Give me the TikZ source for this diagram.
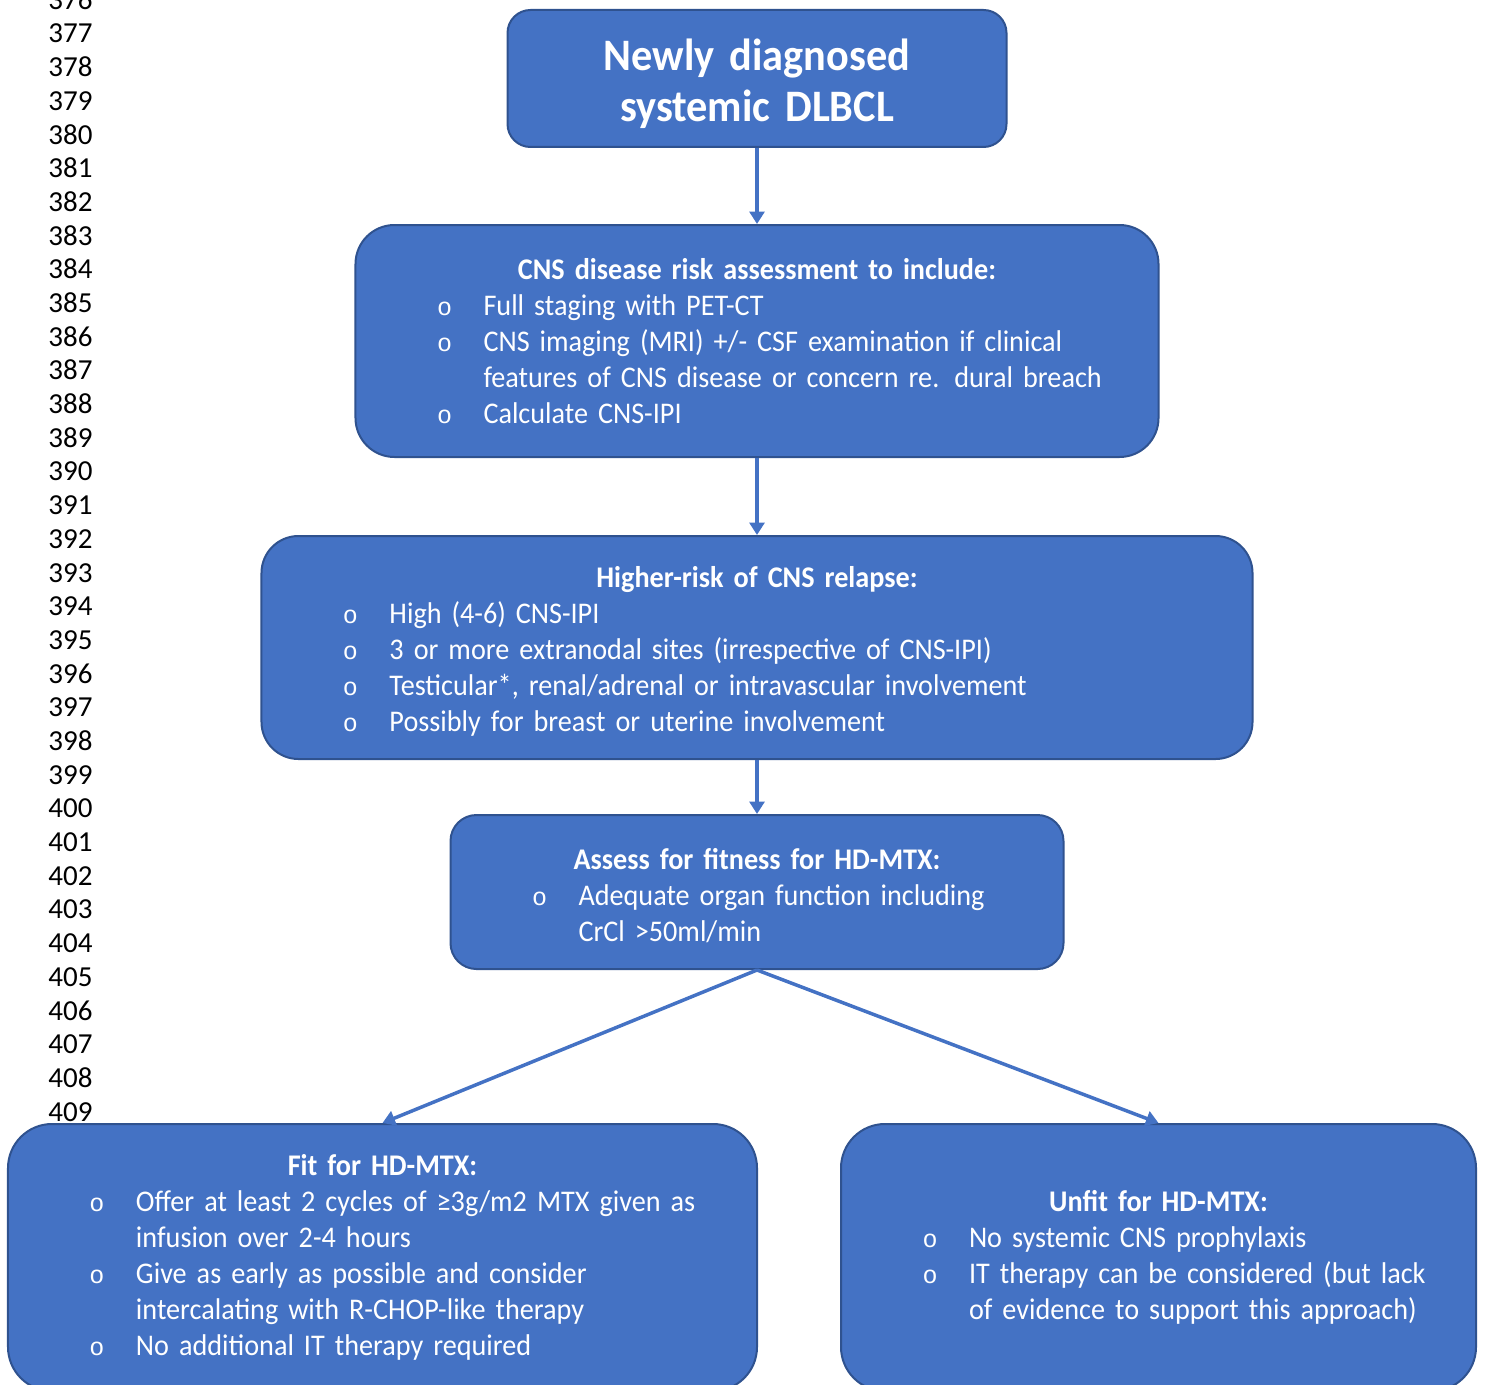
\documentclass[tikz,border=0pt]{standalone}
\usepackage{fontspec}
\setmainfont{Carlito}
\newfontfamily\boxfont[FakeStretch=0.94]{Carlito}
\newfontfamily\bulletfont{Liberation Mono}
\usetikzlibrary{arrows.meta,positioning}

\definecolor{boxblue}{HTML}{4472C4}
\definecolor{boxedge}{HTML}{2F528F}
\setlength{\parskip}{0pt}

\newcommand{\boxtitle}[1]{{\centering\bfseries #1\par}}
\newcommand{\bitem}[1]{\par\hangindent=51.2pt\hangafter=1\noindent\hspace*{32.6pt}\makebox[18.6pt][l]{\bulletfont\fontsize{10}{10}\selectfont o}#1\par}

\begin{document}
\begin{tikzpicture}[x=0.4pt,y=-0.4pt]
	\tikzstyle{flowbox} = [draw=boxedge,fill=boxblue,line width=0.8pt,text=white,inner xsep=0pt,inner ysep=0pt,align=left,font=\boxfont\fontsize{12}{14.4}\selectfont]
	\tikzstyle{flowarrow} = [-{Triangle[length=5pt,width=6pt]},draw=boxblue,line width=1.4pt]
	\tikzstyle{linenum} = [anchor=base west,inner sep=0pt,font=\fontsize{11.6}{13}\selectfont]
	
		\useasboundingbox (0,0) rectangle (1485,1385);
		
		% line numbers
		\foreach \n in {376,...,409}
			\node[linenum] (l\n) at (48,{43+(\n-377)*33.69}) {\n};
		
		\node[flowbox,rounded corners=9.2pt,text width=199.6pt,minimum height=54.8pt,align=center,font=\boxfont\fontsize{18}{20.4}\selectfont\bfseries] (diag) at (757,78.5) {\rule{0pt}{16.5pt}Newly diagnosed\\systemic DLBCL};
		\node[flowbox,rounded corners=15.6pt,text width=321.2pt,minimum height=92.8pt,anchor=north] (risk) at ([yshift=-30.4pt]diag.south) {\boxtitle{CNS disease risk assessment to include:}\bitem{Full staging with PET-CT}\bitem{CNS imaging (MRI) +/- CSF examination if clinical\newline features of CNS disease or concern re. dural breach}\bitem{Calculate CNS-IPI}};
		\node[flowbox,rounded corners=14.8pt,text width=396.4pt,minimum height=89.2pt,anchor=north] (relapse) at ([yshift=-30.8pt]risk.south) {\boxtitle{\rule{0pt}{11.7pt}Higher-risk of CNS relapse:}\bitem{High (4-6) CNS-IPI}\bitem{3 or more extranodal sites (irrespective of CNS-IPI)}\bitem{Testicular*, renal/adrenal or intravascular involvement}\bitem{Possibly for breast or uterine involvement}};
		\node[flowbox,rounded corners=10.4pt,text width=245.2pt,minimum height=61.6pt,anchor=north] (assess) at ([yshift=-21.6pt]relapse.south) {\boxtitle{\rule{0pt}{10.9pt}Assess for fitness for HD-MTX:}\bitem{Adequate organ function including\newline CrCl >50ml/min}};
		\node[flowbox,rounded corners=17.6pt,text width=299.6pt,minimum height=106.8pt,anchor=north] (fit) at (382.5,1123) {\boxtitle{Fit for HD-MTX:}\bitem{Offer at least 2 cycles of ≥3g/m2 MTX given as\newline infusion over 2-4 hours}\bitem{Give as early as possible and consider\newline intercalating with R-CHOP-like therapy}\bitem{No additional IT therapy required}};
		\node[flowbox,rounded corners=17.6pt,text width=254pt,minimum height=106.8pt,anchor=north] (unfit) at (1158.5,1123) {\boxtitle{Unfit for HD-MTX:}\bitem{No systemic CNS prophylaxis}\bitem{IT therapy can be considered (but lack\newline of evidence to support this approach)}};
		
		\draw[flowarrow] (diag.south) -- (risk.north);
		\draw[flowarrow] (risk.south) -- (relapse.north);
		\draw[flowarrow] (relapse.south) -- (assess.north);
		\draw[flowarrow] (assess.south) -- (fit.north);
		\draw[flowarrow] (assess.south) -- (unfit.north);
		
\end{tikzpicture}
\end{document}
